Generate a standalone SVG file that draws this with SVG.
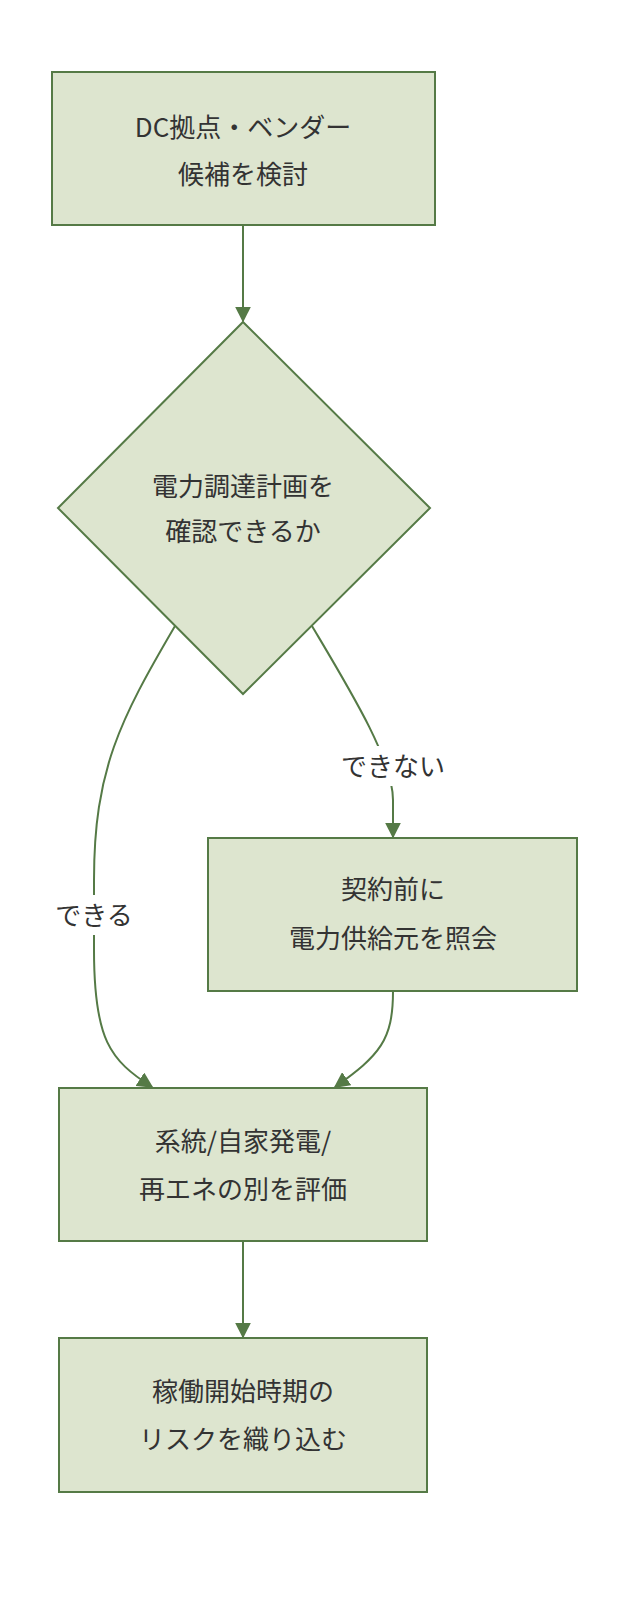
<svg xmlns="http://www.w3.org/2000/svg" width="638" height="1604" viewBox="0 0 638 1604">
<style>
.n{fill:#dde5cf;stroke:#557a46;stroke-width:2}
.t{font-family:"Noto Sans CJK JP","Noto Sans",sans-serif;font-size:26px;fill:#333;text-anchor:middle}
.e{fill:none;stroke:#557a46;stroke-width:2}
.lb{fill:#fff}
</style>
<defs><marker id="a" viewBox="0 0 10 10" refX="9" refY="5" markerWidth="8" markerHeight="8" orient="auto"><path d="M0,0L10,5L0,10z" fill="#557a46"/></marker></defs>
<rect width="638" height="1604" fill="#fff"/>
<g id="connectors">
<path class="e" d="M243,225V321" marker-end="url(#a)"/>
<path class="e" d="M312,626C350,690 393,760 393,800V837" marker-end="url(#a)"/>
<path class="e" d="M175,626C120,720 94,770 94,880V950C94,1040 110,1060 152,1087" marker-end="url(#a)"/>
<path class="e" d="M393,991C393,1040 380,1055 335,1087" marker-end="url(#a)"/>
<path class="e" d="M243,1241V1337" marker-end="url(#a)"/>
<rect class="lb" x="330" y="746" width="126" height="40"/>
<text class="t" x="393" y="776">できない</text>
<rect class="lb" x="48" y="895" width="92" height="40"/>
<text class="t" x="94" y="925">できる</text>
</g>
<g id="n1"><rect class="n" x="52" y="72" width="383" height="153"/>
<text class="t" x="243" y="137">DC拠点・ベンダー</text><text class="t" x="243" y="184">候補を検討</text></g>
<g id="n2"><path class="n" d="M243,322L430,508L243,694L58,508z"/>
<text class="t" x="243" y="496">電力調達計画を</text><text class="t" x="243" y="541">確認できるか</text></g>
<g id="n3"><rect class="n" x="208" y="838" width="369" height="153"/>
<text class="t" x="393" y="899">契約前に</text><text class="t" x="393" y="948">電力供給元を照会</text></g>
<g id="n4"><rect class="n" x="59" y="1088" width="368" height="153"/>
<text class="t" x="243" y="1151">系統/自家発電/</text><text class="t" x="243" y="1199">再エネの別を評価</text></g>
<g id="n5"><rect class="n" x="59" y="1338" width="368" height="154"/>
<text class="t" x="243" y="1401">稼働開始時期の</text><text class="t" x="243" y="1449">リスクを織り込む</text></g>
</svg>
